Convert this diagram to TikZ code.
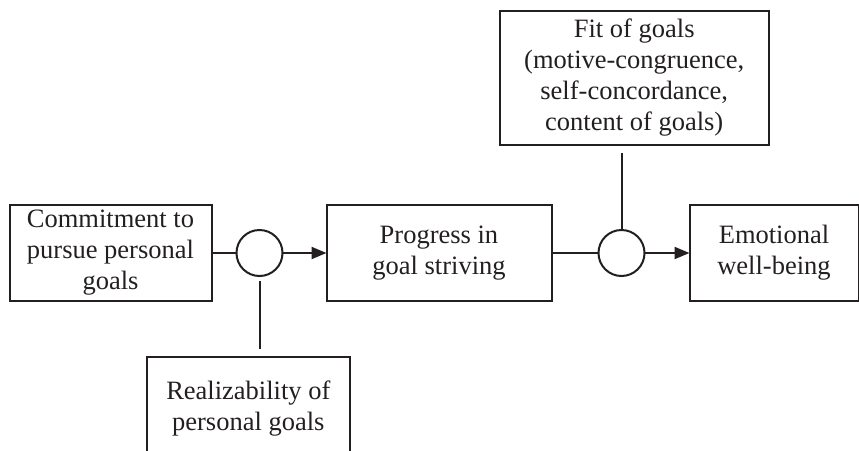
\documentclass[tikz,border=0pt]{standalone}
\usepackage{fontspec}
\setmainfont{Liberation Serif}
\usetikzlibrary{positioning,arrows.meta}
\definecolor{ink}{HTML}{231F20}

\begin{document}
\begin{tikzpicture}[x=1pt,y=-1pt,
  font=\fontsize{26.5}{31}\selectfont,
  box/.style={draw=ink,text=ink,line width=2pt,align=center,inner sep=0pt,outer sep=0pt},
  junction/.style={draw=ink,line width=2pt,circle,minimum size=46pt,inner sep=0pt,outer sep=0pt},
  link/.style={draw=ink,line width=2pt},
  feed/.style={link,-{Triangle[length=15pt,width=12pt]}}]
\clip (0,0) rectangle (859,450);
\node (commit) [box,minimum width=202pt,minimum height=96pt] at (110.5,253) {Commitment to\\pursue personal\\goals};
\node (c1) [junction,right=25pt of commit] {};
\node (progress) [box,minimum width=225pt,minimum height=96pt,right=44pt of c1] {Progress in\\goal striving};
\node (c2) [junction,right=47pt of progress] {};
\node (emo) [box,minimum width=169pt,minimum height=96pt,right=45pt of c2] {Emotional\\well-being};
\node (fit) [box,minimum width=269pt,minimum height=134pt,above=85pt of c2,xshift=12.7pt] {Fit of goals\\(motive-congruence,\\self-concordance,\\content of goals)};
\node (real) [box,minimum width=203pt,minimum height=104pt,below=81pt of c1,xshift=-11.2pt] {Realizability of\\personal goals};
\draw[link] (commit) -- (c1);
\draw[feed] (c1) -- (progress);
\draw[link] (progress) -- (c2);
\draw[feed] (c2) -- (emo);
\draw[link,shorten <=8pt] (fit.south -| c2) -- (c2);
\draw[link,shorten <=5pt,shorten >=8pt] (c1) -- (c1 |- real.north);
\end{tikzpicture}
\end{document}
